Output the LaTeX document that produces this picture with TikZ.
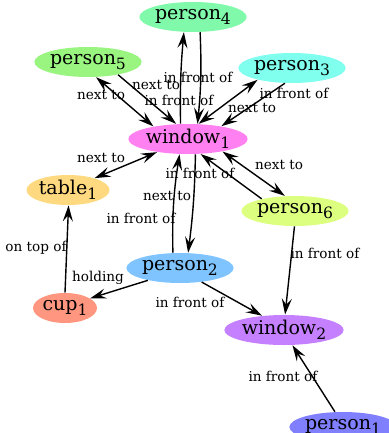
\documentclass[tikz,border=0pt]{standalone}
\usepackage{fontspec}
\setmainfont{DejaVu Serif}
\usetikzlibrary{arrows.meta, shapes.geometric}
\definecolor{colp1}{RGB}{128,128,255}
\definecolor{colp2}{RGB}{128,196,255}
\definecolor{colp3}{RGB}{128,255,238}
\definecolor{colp4}{RGB}{128,250,170}
\definecolor{colp5}{RGB}{153,245,128}
\definecolor{colp6}{RGB}{221,255,128}
\definecolor{colw1}{RGB}{255,128,240}
\definecolor{colw2}{RGB}{197,128,255}
\definecolor{colt1}{RGB}{255,217,128}
\definecolor{colc1}{RGB}{255,150,128}
\newcommand{\idx}[2]{#1\raisebox{-0.5ex}{\fontsize{7.8}{8}\selectfont #2}}

\begin{document}
\begin{tikzpicture}[x=0.5pt, y=-0.5pt,
  obj/.style={ellipse, inner sep=0pt, minimum height=15pt, font=\fontsize{9.5}{11}\selectfont},
  pers/.style={obj, minimum width=53.5pt},
  win/.style={obj, minimum width=59.5pt},
  rel/.style={-{Stealth[length=8pt, width=5pt, inset=3pt]}, line width=0.7pt},
  both/.style={{Stealth[length=8pt, width=5pt, inset=3pt]}-{Stealth[length=8pt, width=5pt, inset=3pt]}, line width=0.7pt},
  lbl/.style={font=\fontsize{6.8}{8}\selectfont, inner sep=0pt}]
  \useasboundingbox (0,0) rectangle (388,433);

  % objects
  \node[pers, fill=colp4] (p4) at (193,17) {\idx{person}{4}};
  \node[pers, fill=colp5] (p5) at (88,62) {\idx{person}{5}};
  \node[pers, fill=colp3] (p3) at (292,68) {\idx{person}{3}};
  \node[win, fill=colw1] (w1) at (188,139) {\idx{window}{1}};
  \node[obj, fill=colt1, minimum width=41.5pt] (t1) at (68,190) {\idx{table}{1}};
  \node[pers, fill=colp6] (p6) at (295,211) {\idx{person}{6}};
  \node[pers, fill=colp2] (p2) at (180,268) {\idx{person}{2}};
  \node[obj, fill=colc1, minimum width=32pt] (c1) at (65,308) {\idx{cup}{1}};
  \node[win, fill=colw2] (w2) at (284,330) {\idx{window}{2}};
  \node[pers, fill=colp1] (p1) at (343,427) {\idx{person}{1}};

  % relations
  \draw[both] (p5.-62) -- (w1.160);
  \draw[rel] (p5.-23) -- (w1.128);
  \draw[rel] (w1.116) to[bend left=3] (p4.-121);
  \draw[rel] (p4.-65) to[bend left=4] (w1.58);
  \draw[both] (p3.-161) -- (w1.55);
  \draw[rel] (p3.-115) -- (w1.21);
  \draw[both] (w1.-157) -- (t1.24);
  \draw[rel] (p2.115) to[bend left=5] (w1.-119);
  \draw[rel] (w1.-64) to[bend left=3] (p2.62);
  \draw[rel] (p6.160) -- (w1.-50);
  \draw[both] (w1.-20) -- (p6.124);
  \draw[rel] (c1.north) -- (t1.-88);
  \draw[rel] (p2.-159) -- (c1.21);
  \draw[rel] (p2.-33) -- (w2.147);
  \draw[rel] (p6.-92) -- (w2.86);
  \draw[rel] (p1.118) -- (w2.-61);

  % relation labels
  \node[lbl] (l1) at (101,95) {next to};
  \node[lbl] (l2) at (156,85) {next to};
  \node[lbl] (l3) at (179,100) {in front of};
  \node[lbl] (l4) at (198,77) {in front of};
  \node[lbl] (l5) at (294,93) {in front of};
  \node[lbl] (l6) at (252,108) {next to};
  \node[lbl] (l7) at (101,158) {next to};
  \node[lbl] (l8) at (167,196) {next to};
  \node[lbl] (l9) at (141,218) {in front of};
  \node[lbl] (l10) at (200,173) {in front of};
  \node[lbl] (l11) at (279,165) {next to};
  \node[lbl] (l12) at (36,248) {on top of};
  \node[lbl] (l13) at (98,278) {holding};
  \node[lbl] (l14) at (190,302) {in front of};
  \node[lbl] (l15) at (325,253) {in front of};
  \node[lbl] (l16) at (283,376) {in front of};
\end{tikzpicture}
\end{document}
